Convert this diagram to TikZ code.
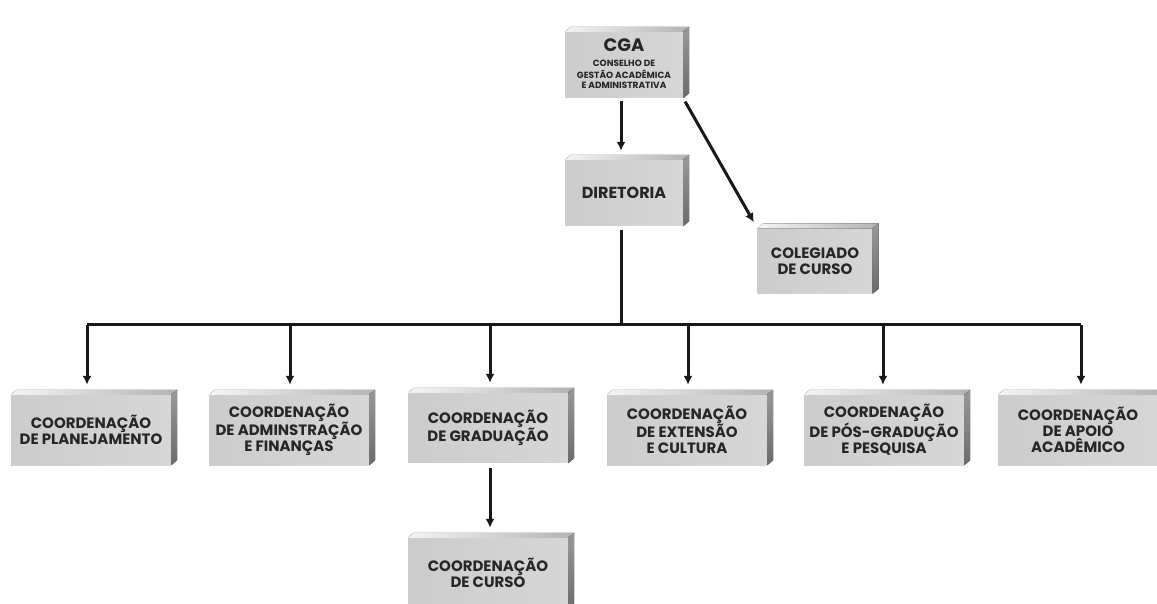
\documentclass[tikz,border=0pt]{standalone}
\usepackage{fontspec}
\setmainfont{Poppins}
\usetikzlibrary{
    arrows.meta,
    calc
}
\newcommand\subline{\fontsize{9}{10}\selectfont}
\tikzset {
    unit/.style = {
        minimum width = 160, minimum height = 70, inner sep = 0,
        align = center, text = black!85,
        font = \bfseries\fontsize{15}{16}\selectfont,
        left color = black!20, middle color = black!6, right color = black!16
    },
    top face/.style = {left color = black!4, right color = black!30},
    side face/.style = {top color = black!40, bottom color = black!58},
    link/.style = {line width = 3pt, black!90},
    arrowed/.style = {link, -{Latex[length = 9pt, width = 9pt]}}
}

\begin{document}
\begin{tikzpicture}[x = 1pt, y = 1pt]
    \useasboundingbox [fill = white] (0, 0) rectangle (1157, 603);
    % top
    \node (cga) [unit, minimum width = 118, minimum height = 66] at (624, 538)
        {\fontsize{18}{18}\selectfont CGA\\[-1pt]
         \subline\begin{tabular}[t]{@{}c@{}}CONSELHO DE\\GESTÃO ACADÊMICA\\E ADMINISTRATIVA\end{tabular}};
    \node (dir) [unit, minimum width = 118, minimum height = 66, font = \bfseries\fontsize{16}{18}\selectfont] at (624, 410) {DIRETORIA};
    \node (col) [unit, minimum width = 115, minimum height = 65] at (815, 342) {COLEGIADO\\DE CURSO};
    % coordenações
    \node (c1) [unit] at (91, 173) {COORDENAÇÃO\\DE PLANEJAMENTO};
    \node (c2) [unit] at (289, 173) {COORDENAÇÃO\\DE ADMINSTRAÇÃO\\E FINANÇAS};
    \node (c3) [unit] at (488, 175) {COORDENAÇÃO\\DE GRADUAÇÃO};
    \node (c4) [unit] at (687, 173) {COORDENAÇÃO\\DE EXTENSÃO\\E CULTURA};
    \node (c5) [unit] at (884, 173) {COORDENAÇÃO\\DE PÓS-GRADUÇÃO\\E PESQUISA};
    \node (c6) [unit] at (1078, 173) {COORDENAÇÃO\\DE APOIO\\ACADÊMICO};
    \node (curso) [unit] at (488, 30) {COORDENAÇÃO\\DE CURSO};
    % 3d faces
    \foreach \n in {cga, dir, col, c1, c2, c3, c4, c5, c6, curso} {
        \fill [top face] (\n.north west) -- ++(6, 5) -- ($ (\n.north east) + (6, 5) $) -- (\n.north east) -- cycle;
        \fill [side face] (\n.north east) -- ++(6, 5) -- ($ (\n.south east) + (6, 5) $) -- (\n.south east) -- cycle;
    }
    % connectors
    \coordinate (bus) at (621, 278);
    \draw [arrowed, shorten < = 3pt, shorten > = 9pt] (cga.south -| bus) -- (dir.north -| bus);
    \draw [arrowed, shorten < = 4pt, shorten > = 7pt] (cga.south east) -- (col.north west);
    \draw [link] (dir.south -| bus) ++(0, -4) -- (bus);
    \draw [link] (87, 278) -- (1081, 278);
    \foreach \n/\x in {c1/87, c2/290, c3/490, c4/688, c5/883, c6/1081} {
        \draw [arrowed, shorten > = 10pt] (\x, 278) -- (\n.north -| \x, 0);
    }
    \draw [arrowed, shorten < = 5pt, shorten > = 10pt] (c3.south -| 490, 0) -- (curso.north -| 490, 0);
\end{tikzpicture}
\end{document}
